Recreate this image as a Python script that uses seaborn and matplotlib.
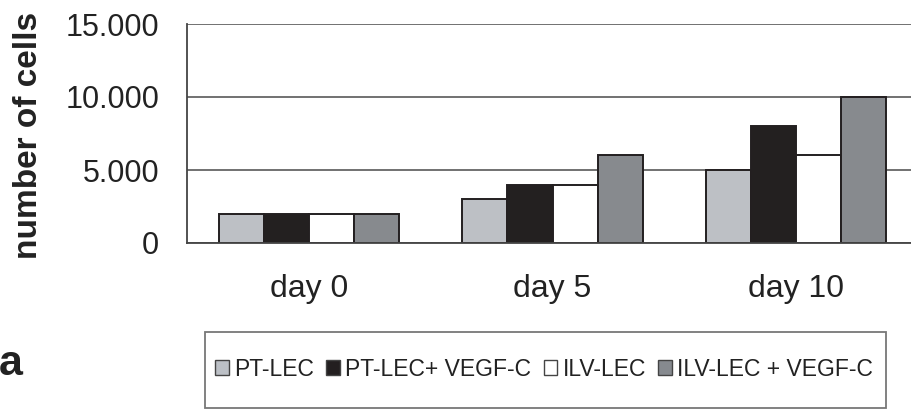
import pandas as pd
import matplotlib.pyplot as plt
import seaborn as sns
from matplotlib.patches import Rectangle
from matplotlib.ticker import FuncFormatter, FixedLocator

# data
days = ["day 0", "day 5", "day 10"]
groups = ["PT-LEC", "PT-LEC+ VEGF-C", "ILV-LEC", "ILV-LEC + VEGF-C"]
pt_lec = [2000, 3000, 5000]
pt_lec_vegf = [2000, 4000, 8000]
ilv_lec = [2000, 4000, 6000]
ilv_lec_vegf = [2000, 6000, 10000]
colors = ["#bcc0c6", "#231f20", "#ffffff", "#868a8f"]

rows = []
for g, vals in zip(groups, [pt_lec, pt_lec_vegf, ilv_lec, ilv_lec_vegf]):
    for d, v in zip(days, vals):
        rows.append({"day": d, "group": g, "cells": v})
data = pd.DataFrame(rows)

sns.set_style("white")
plt.rcParams["font.family"] = ["Liberation Sans", "DejaVu Sans"]

fig = plt.figure(figsize=(9.11, 4.12), dpi=100)
ax = fig.add_axes([187 / 911, 169 / 412, 731 / 911, 219 / 412])

sns.barplot(data=data, x="day", y="cells", hue="group", order=days,
            hue_order=groups, palette=colors, edgecolor="#231f20",
            linewidth=1.4, width=0.74, gap=0, errorbar=None, ax=ax)
ax.get_legend().remove()

ax.set_xlim(-0.5, 2.5)
ax.set_ylim(0, 15000)
ax.set_yticks([0, 5000, 10000, 15000])
ax.yaxis.set_major_formatter(FuncFormatter(lambda v, p: f"{int(v):,}".replace(",", ".")))
ax.grid(axis="y", color="#666666", linewidth=1.3)
ax.set_axisbelow(True)

# boundary ticks between groups, labels at centres
ax.xaxis.set_major_locator(FixedLocator([-0.5, 0.5, 1.5, 2.5]))
ax.xaxis.set_minor_locator(FixedLocator([0, 1, 2]))
ax.set_xticklabels([])
ax.set_xticklabels(days, minor=True)
ax.tick_params(axis="x", which="major", direction="out", length=9, width=1.2,
               color="#444444")
ax.tick_params(axis="x", which="minor", length=0, pad=22, labelsize=23,
               labelcolor="#222222")
ax.tick_params(axis="y", direction="inout", length=14, width=1.2,
               color="#444444", labelsize=22, labelcolor="#222222", pad=13)

for s in ["top", "right"]:
    ax.spines[s].set_visible(False)
for s in ["left", "bottom"]:
    ax.spines[s].set_color("#444444")
    ax.spines[s].set_linewidth(1.3)

ax.set_xlabel("")
ax.set_ylabel("number of cells", fontsize=24, fontweight="bold",
              color="#222222")
ax.yaxis.set_label_coords(-143 / 731, 0.49)

# legend box at the bottom
fig.patches.append(Rectangle((205 / 911, 4 / 412), 681 / 911, 76 / 412,
                             transform=fig.transFigure, fill=False,
                             edgecolor="#777777", linewidth=1.3))
handles = [Rectangle((0, 0), 1, 1, facecolor=c, edgecolor="#444444", linewidth=1.0)
           for c in colors]
fig.legend(handles, groups, loc="center", bbox_to_anchor=(544 / 911, 43 / 412),
           ncol=4, frameon=False, fontsize=16.5, handlelength=0.6,
           handleheight=0.6, handletextpad=0.22, columnspacing=0.55,
           labelcolor="#222222")

fig.text(-1 / 911, 37 / 412, "a", fontsize=31, fontweight="bold", color="#222222")

fig.savefig("out.png", dpi=100)
